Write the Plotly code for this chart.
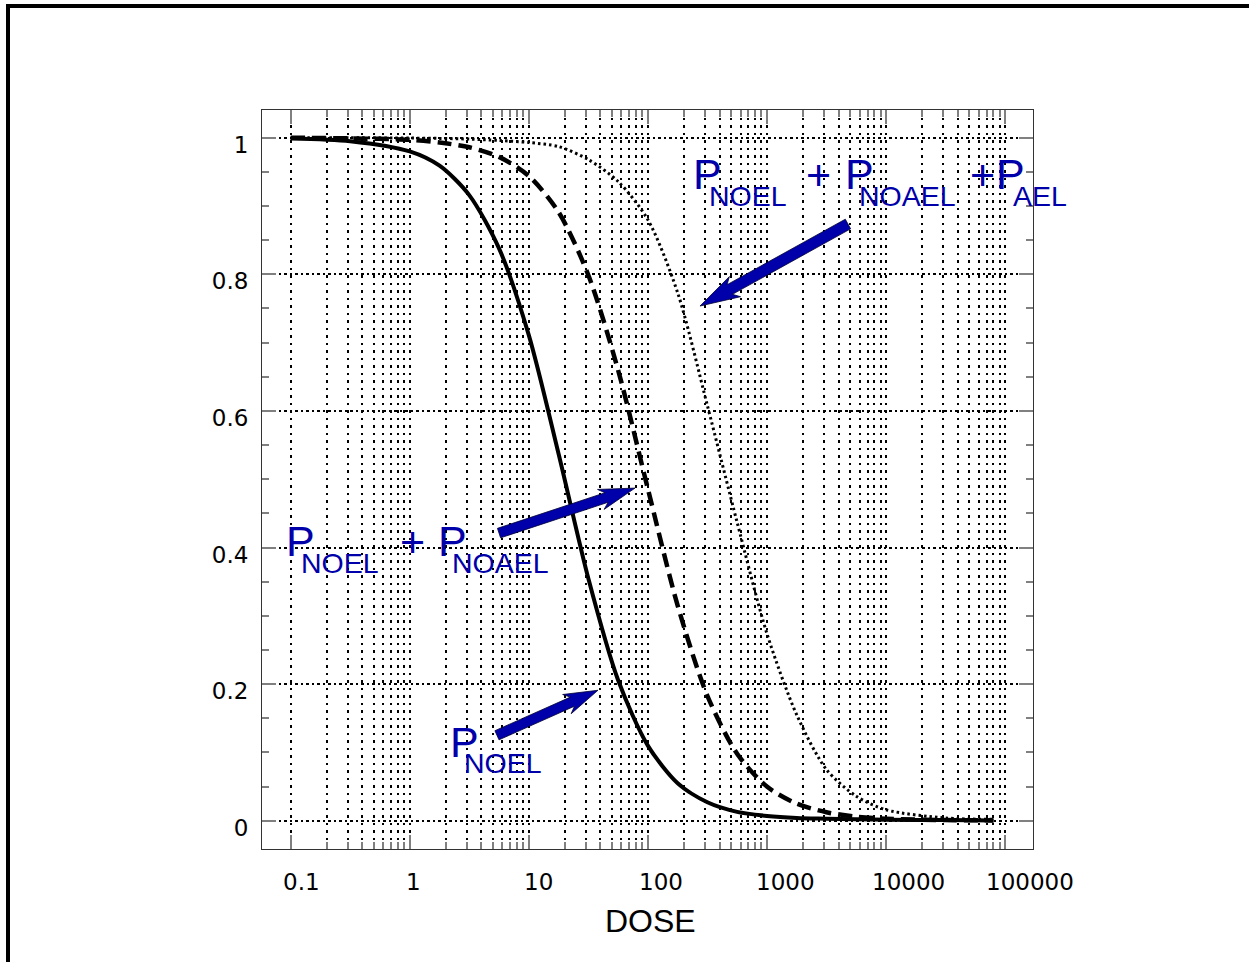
import math
import plotly.graph_objects as go

# ---- data ----
dose = [0.1, 0.316, 1, 1.78, 3.16, 5.62, 10, 17.8, 31.6, 56.2, 100, 178, 316, 562,
        1000, 1780, 3160, 5620, 10000, 31600, 80000]
p_noel = [0.999, 0.995, 0.980, 0.959, 0.916, 0.838, 0.711, 0.537, 0.355, 0.206, 0.110,
          0.055, 0.027, 0.013, 0.007, 0.004, 0.003, 0.002, 0.0015, 0.001, 0.0005]
p_noel_noael = [1.0, 0.999, 0.997, 0.993, 0.986, 0.972, 0.944, 0.891, 0.799, 0.660, 0.486,
                0.315, 0.183, 0.098, 0.050, 0.025, 0.0124, 0.006, 0.003, 0.001, 0.0005]
p_all = [1.0, 1.0, 0.9995, 0.999, 0.998, 0.996, 0.993, 0.987, 0.968, 0.936, 0.880, 0.773,
         0.608, 0.437, 0.274, 0.155, 0.075, 0.036, 0.016, 0.004, 0.002]

x_major = [0.1, 1, 10, 100, 1000, 10000, 100000]
x_labels = ["0.1", "1", "10", "100", "1000", "10000", "100000"]
y_major = [0, 0.2, 0.4, 0.6, 0.8, 1]
y_labels = ["0", "0.2", "0.4", "0.6", "0.8", "1"]

x_minor = [m * d for d in x_major[:-1] for m in range(2, 10)]
y_minor = [round(i * 0.05, 2) for i in range(21) if i % 4 != 0]

# ---- layout geometry (pixels) ----
W, H = 1249, 962
L, R, T, B = 262, 1033, 110, 849
XR = [-1.241, 5.235]
YR = [-0.0414, 1.0406]

def px2paper(px, py):
    return (px - L) / (R - L), (B - py) / (B - T)

def data2px(d, p):
    px = L + (math.log10(d) - XR[0]) / (XR[1] - XR[0]) * (R - L)
    py = T + (YR[1] - p) / (YR[1] - YR[0]) * (B - T)
    return px, py

FONT = "Liberation Sans, Arial, sans-serif"
TICKFONT = "DejaVu Sans, sans-serif"
BLUE = "#0000aa"

fig = go.Figure()
fig.add_trace(go.Scatter(x=dose, y=p_all, mode="lines",
                         line=dict(color="black", width=3, dash="2.5px,3px",
                                   shape="spline", smoothing=0.8)))
fig.add_trace(go.Scatter(x=dose, y=p_noel_noael, mode="lines",
                         line=dict(color="black", width=4.5, dash="14px,7px",
                                   shape="spline", smoothing=0.8)))
fig.add_trace(go.Scatter(x=dose, y=p_noel, mode="lines",
                         line=dict(color="black", width=4, shape="spline", smoothing=0.8)))

fig.update_xaxes(type="log", range=XR,
                 tickmode="array", tickvals=x_major, showticklabels=False,
                 ticks="inside", ticklen=14, tickwidth=2, tickcolor="#808080",
                 showgrid=True, gridcolor="black", gridwidth=1.6, griddash="2.5px,5px",
                 minor=dict(tickmode="array", tickvals=x_minor, ticks="inside", ticklen=7,
                            tickwidth=2, tickcolor="#808080", showgrid=True,
                            gridcolor="black", gridwidth=1.6, griddash="2.5px,5px"),
                 showline=True, linecolor="#333333", linewidth=1, mirror="allticks",
                 zeroline=False)
fig.update_yaxes(range=YR,
                 tickmode="array", tickvals=y_major, ticktext=y_labels,
                 ticks="inside", ticklen=14, tickwidth=2, tickcolor="#808080",
                 tickfont=dict(family=TICKFONT, size=23, color="black"),
                 ticklabelstandoff=8, ticklabelshift=7,
                 showgrid=True, gridcolor="black", gridwidth=1.6, griddash="2.5px,3px",
                 minor=dict(tickmode="array", tickvals=y_minor, ticks="inside", ticklen=7,
                            tickwidth=2, tickcolor="#808080", showgrid=False),
                 showline=True, linecolor="#333333", linewidth=1, mirror="allticks",
                 zeroline=False)

annotations = []
# x tick labels (the original draws them a little right of their ticks)
label_px = [301, 413, 538, 661, 785, 908, 1030]
for t, lx in zip(x_labels, label_px):
    xp, yp = px2paper(lx, 882)
    annotations.append(dict(x=xp, y=yp, xref="paper", yref="paper", text=t,
                            showarrow=False, xanchor="center", yanchor="middle",
                            font=dict(family=TICKFONT, size=23, color="black")))
xp, yp = px2paper(650, 921)
annotations.append(dict(x=xp, y=yp, xref="paper", yref="paper", text="DOSE",
                        showarrow=False, xanchor="center", yanchor="middle",
                        font=dict(family=FONT, size=32, color="black")))

# blue labels, built piece by piece: (text, size, anchor, px, py)
BIG, SUB = 43, 28.5
pieces = [
    # top right label
    ("P", BIG, "left", 690.6, 173.5), ("NOEL", SUB, "left", 706.8, 196.5),
    ("+", BIG, "center", 818, 175),
    ("P", BIG, "left", 842.6, 173.5), ("NOAEL", SUB, "left", 856.8, 196.5),
    ("+", BIG, "center", 982.5, 175),
    ("P", BIG, "left", 993.6, 173.5), ("AEL", SUB, "left", 1011, 196.5),
    # middle label
    ("P", BIG, "left", 283.6, 540.5), ("NOEL", SUB, "left", 298.8, 563),
    ("+", BIG, "center", 412, 542.3),
    ("P", BIG, "left", 435.6, 540.5), ("NOAEL", SUB, "left", 449.8, 563),
    # bottom label
    ("P", BIG, "left", 447.6, 742), ("NOEL", SUB, "left", 461.8, 762.5),
]
for txt, size, anchor, px, py in pieces:
    xp, yp = px2paper(px, py)
    annotations.append(dict(x=xp, y=yp, xref="paper", yref="paper", text=txt,
                            showarrow=False, xanchor=anchor, yanchor="middle",
                            font=dict(family=FONT, size=size, color=BLUE)))

# block arrows: tip in data coordinates, tail as pixel offset from the tip
arrows = [  # (dose, P, tail dx, tail dy, shaft width, head length, head width)
    (274, 0.7536, 148, -82, 11, 40, 23),
    (78.0, 0.487, -136, 45, 10, 36, 21),
    (38.1, 0.191, -101, 45, 10, 34, 21),
]
shapes = []
for d, p, tdx, tdy, sw, hl, hw in arrows:
    tx, ty = data2px(d, p)
    ex, ey = tx + tdx, ty + tdy
    ln = math.hypot(tdx, tdy)
    ux, uy = tdx / ln, tdy / ln
    nx, ny = -uy, ux
    notch = 6
    nkx, nky = tx + ux * (hl - notch), ty + uy * (hl - notch)
    bx, by = tx + ux * hl, ty + uy * hl
    pts = [(ex + nx * sw / 2, ey + ny * sw / 2), (nkx + nx * sw / 2, nky + ny * sw / 2),
           (bx + nx * hw / 2, by + ny * hw / 2), (tx, ty),
           (bx - nx * hw / 2, by - ny * hw / 2), (nkx - nx * sw / 2, nky - ny * sw / 2),
           (ex - nx * sw / 2, ey - ny * sw / 2)]
    pp = [px2paper(a, b) for a, b in pts]
    path = "M " + " L ".join(f"{a:.5f},{b:.5f}" for a, b in pp) + " Z"
    shapes.append(dict(type="path", xref="paper", yref="paper", path=path,
                       fillcolor=BLUE, line=dict(color="#000033", width=0.8)))

# outer frame (top and left edges of the original page)
x0, y0 = px2paper(6, 6)
x1, _ = px2paper(1260, 6)
shapes.append(dict(type="line", xref="paper", yref="paper", x0=x0, x1=x1, y0=y0, y1=y0,
                   line=dict(color="black", width=4)))
lx0, ly0 = px2paper(8, 4)
_, ly1 = px2paper(8, 980)
shapes.append(dict(type="line", xref="paper", yref="paper", x0=lx0, x1=lx0, y0=ly0, y1=ly1,
                   line=dict(color="black", width=4)))

fig.update_layout(width=W, height=H, margin=dict(l=L, r=W - R, t=T, b=H - B),
                  paper_bgcolor="white", plot_bgcolor="white", showlegend=False,
                  annotations=annotations, shapes=shapes,
                  font=dict(family=FONT, color="black"))
fig.write_html("out.html")
